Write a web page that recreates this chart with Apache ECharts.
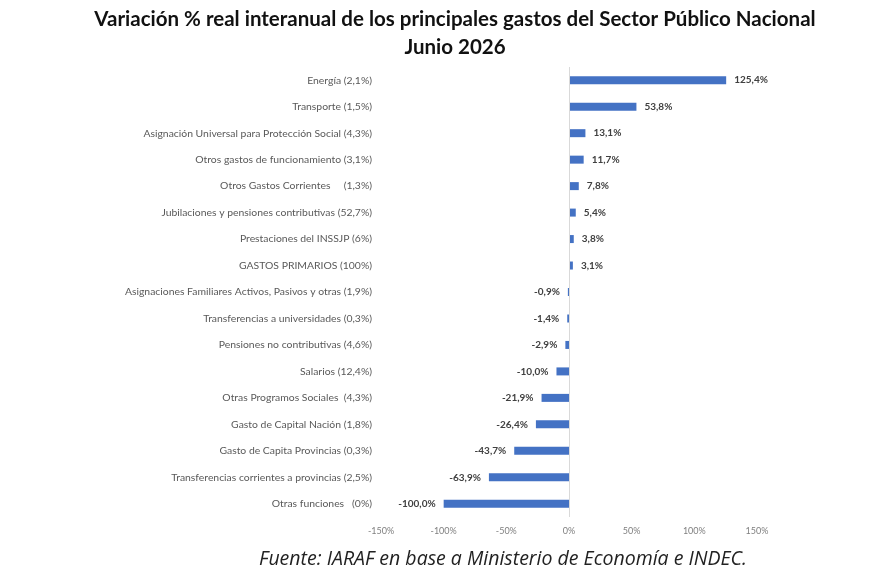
<!DOCTYPE html>
<html>
<head>
<meta charset="utf-8">
<script src="https://cdn.jsdelivr.net/npm/echarts@6/dist/echarts.min.js"></script>
<style>
  html, body { margin: 0; padding: 0; background: #fff; }
  #main { width: 870px; height: 580px; }
</style>
</head>
<body>
<div id="main"></div>
<script>
// categorias (de arriba hacia abajo)
var categorias = [
    'Energía (2,1%)',
    'Transporte (1,5%)',
    'Asignación Universal para Protección Social (4,3%)',
    'Otros gastos de funcionamiento (3,1%)',
    'Otros Gastos Corrientes     (1,3%)',
    'Jubilaciones y pensiones contributivas (52,7%)',
    'Prestaciones del INSSJP (6%)',
    'GASTOS PRIMARIOS (100%)',
    'Asignaciones Familiares Activos, Pasivos y otras (1,9%)',
    'Transferencias a universidades (0,3%)',
    'Pensiones no contributivas (4,6%)',
    'Salarios (12,4%)',
    'Otras Programos Sociales  (4,3%)',
    'Gasto de Capital Nación (1,8%)',
    'Gasto de Capita Provincias (0,3%)',
    'Transferencias corrientes a provincias (2,5%)',
    'Otras funciones   (0%)'
];
var variacion = [125.4, 53.8, 13.1, 11.7, 7.8, 5.4, 3.8, 3.1, -0.9, -1.4, -2.9, -10.0, -21.9, -26.4, -43.7, -63.9, -100.0];
var ejeMin = -150, ejeMax = 150, ejePaso = 50;

function fmtPct(v, dec) {
    return v.toFixed(dec).replace('.', ',') + '%';
}

var serieData = [];
for (var i = 0; i < variacion.length; i++) {
    var v = variacion[i];
    serieData.push({
        value: v,
        label: { position: v >= 0 ? 'right' : 'left' }
    });
}

var dom = document.getElementById('main');
var myChart = echarts.init(dom, null, { renderer: 'canvas' });

var option = {
    backgroundColor: '#ffffff',
    animation: false,
    title: [{
        text: 'Variación % real interanual de los principales gastos del Sector Público Nacional\nJunio 2026',
        left: 450,
        top: 0,
        textAlign: 'center',
        textStyle: {
            fontFamily: 'Lato',
            fontWeight: 'bold',
            fontSize: 20.5,
            lineHeight: 28,
            color: '#111111'
        }
    }, {
        text: 'Fuente: IARAF en base a Ministerio de Economía e INDEC.',
        left: 498,
        top: 544,
        textAlign: 'center',
        textStyle: {
            fontFamily: 'Open Sans',
            fontStyle: 'italic',
            fontWeight: 'normal',
            fontSize: 19.5,
            color: '#222222'
        }
    }],
    grid: {
        left: 381,
        right: 113,
        top: 67,
        bottom: 63,
        containLabel: false
    },
    xAxis: {
        type: 'value',
        min: ejeMin,
        max: ejeMax,
        interval: ejePaso,
        splitLine: { show: false },
        axisLine: { show: false },
        axisTick: { show: false },
        axisLabel: {
            margin: 10,
            fontFamily: 'Lato',
            fontSize: 9,
            color: '#7f7f7f',
            formatter: function (v) { return v + '%'; }
        }
    },
    yAxis: {
        type: 'category',
        data: categorias,
        inverse: true,
        axisLine: { show: false },
        axisTick: { show: false },
        axisLabel: {
            margin: 9,
            fontFamily: 'Lato',
            fontSize: 10.4,
            color: '#595959'
        }
    },
    series: [{
        type: 'bar',
        data: serieData,
        barWidth: 8,
        itemStyle: { color: '#4472c4' },
        label: {
            show: true,
            distance: 8,
            fontFamily: 'Lato',
            fontWeight: 'bold',
            fontSize: 10,
            color: '#404040',
            formatter: function (p) { return fmtPct(p.value, 1); }
        },
        markLine: {
            silent: true,
            symbol: ['none', 'none'],
            label: { show: false },
            lineStyle: { color: '#d9d9d9', type: 'solid', width: 1 },
            data: [{ xAxis: 0 }]
        }
    }]
};

myChart.setOption(option, true);
</script>
</body>
</html>
